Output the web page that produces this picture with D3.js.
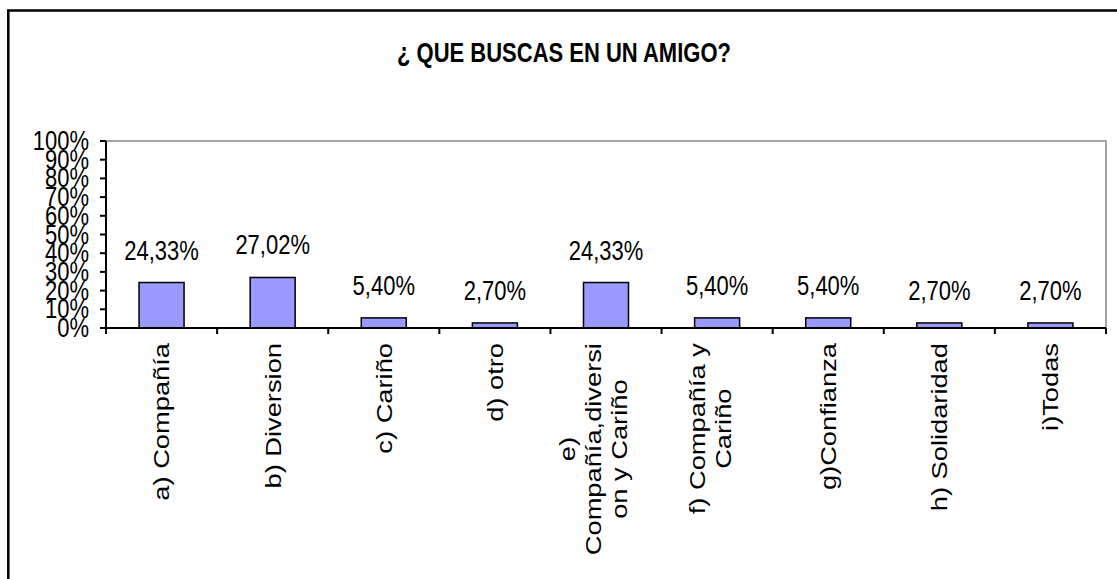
<!DOCTYPE html>
<html>
<head>
<meta charset="utf-8">
<script src="https://cdn.jsdelivr.net/npm/d3@7"></script>
<style>
	body { margin: 0; background: #fff; }
	svg { display: block; }
	text { font-family: "Liberation Sans", Arial, sans-serif; fill: #000; }
</style>
</head>
<body>
<div id="viz"></div>
<script>
const TITLE = '¿ QUE BUSCAS EN UN AMIGO?'
const categories = ['a', 'b', 'c', 'd', 'e', 'f', 'g', 'h', 'i']
const category_lines = [
	['a) Compañía'],
	['b) Diversion'],
	['c) Cariño'],
	['d) otro'],
	['e)', 'Compañía,diversi', 'on y Cariño'],
	['f) Compañía y', 'Cariño'],
	['g)Confianza'],
	['h) Solidaridad'],
	['i)Todas']
]
const values = [24.33, 27.02, 5.4, 2.7, 24.33, 5.4, 5.4, 2.7, 2.7]
const y_ticks = [0, 10, 20, 30, 40, 50, 60, 70, 80, 90, 100]
const y_tick_labels = ['0%', '10%', '20%', '30%', '40%', '50%', '60%', '70%', '80%', '90%', '100%']

// the original is stretched vertically, so every text gets the same stretch
const STRETCH = 1.24
const FONT = 22
const WIDTH = 1117
const HEIGHT = 579
const PLOT = { left: 106, right: 1106, top: 141, bottom: 328 }

const svg = d3.select('#viz').append('svg')
	.attr('width', WIDTH)
	.attr('height', HEIGHT)

// outer chart border (right and bottom fall outside the picture)
svg.append('rect')
	.attr('x', 8.3)
	.attr('y', 10.5)
	.attr('width', WIDTH + 40)
	.attr('height', HEIGHT + 40)
	.attr('fill', 'none')
	.attr('stroke', '#000')
	.attr('stroke-width', 2.5)

svg.append('text')
	.attr('transform', `translate(564, 62) scale(1, ${STRETCH})`)
	.attr('text-anchor', 'middle')
	.style('font-size', FONT + 'px')
	.style('font-weight', 'bold')
	.text(TITLE)

const x = d3.scaleBand()
	.domain(categories)
	.range([PLOT.left, PLOT.right])
	.paddingInner(0)
	.paddingOuter(0)

const y = d3.scaleLinear()
	.domain([0, 100])
	.range([PLOT.bottom, PLOT.top])

// gray plot frame at top and right
svg.append('path')
	.attr('d', `M${PLOT.left},${PLOT.top}H${PLOT.right}V${PLOT.bottom}`)
	.attr('fill', 'none')
	.attr('stroke', '#888')
	.attr('stroke-width', 1.5)

const BAR_W = x.bandwidth() * 0.405
svg.append('g')
	.selectAll('rect')
	.data(values)
	.enter()
	.append('rect')
	.attr('x', (d, i) => x(categories[i]) + x.bandwidth() / 2 - BAR_W / 2)
	.attr('y', (d) => y(d))
	.attr('width', BAR_W)
	.attr('height', (d) => y(0) - y(d))
	.attr('fill', '#9999ff')
	.attr('stroke', '#000')
	.attr('stroke-width', 1.5)

// value labels
svg.append('g')
	.selectAll('text')
	.data(values)
	.enter()
	.append('text')
	.attr('transform', (d, i) =>
		`translate(${x(categories[i]) + x.bandwidth() / 2}, ${y(d) - 23}) scale(1, ${STRETCH})`)
	.attr('text-anchor', 'middle')
	.style('font-size', FONT + 'px')
	.text((d) => d.toFixed(2).replace('.', ',') + '%')

// y axis
const y_axis = svg.append('g')
y_axis.append('line')
	.attr('x1', PLOT.left).attr('x2', PLOT.left)
	.attr('y1', PLOT.top).attr('y2', PLOT.bottom + 6)
	.attr('stroke', '#000').attr('stroke-width', 2)
y_axis.selectAll('.tick')
	.data(y_ticks)
	.enter()
	.append('line')
	.attr('x1', PLOT.left - 6).attr('x2', PLOT.left)
	.attr('y1', (d) => y(d)).attr('y2', (d) => y(d))
	.attr('stroke', '#000').attr('stroke-width', 2)
y_axis.selectAll('text')
	.data(y_ticks)
	.enter()
	.append('text')
	.attr('transform', (d) => `translate(89, ${y(d) + 9}) scale(1, ${STRETCH})`)
	.attr('text-anchor', 'end')
	.style('font-size', FONT + 'px')
	.text((d, i) => y_tick_labels[i])

// x axis
const x_axis = svg.append('g')
x_axis.append('line')
	.attr('x1', PLOT.left - 6).attr('x2', PLOT.right)
	.attr('y1', PLOT.bottom).attr('y2', PLOT.bottom)
	.attr('stroke', '#000').attr('stroke-width', 2)
const x_ticks = categories.map((c) => x(c)).concat([PLOT.right])
x_axis.selectAll('.tick')
	.data(x_ticks)
	.enter()
	.append('line')
	.attr('x1', (d) => d).attr('x2', (d) => d)
	.attr('y1', PLOT.bottom).attr('y2', PLOT.bottom + 6)
	.attr('stroke', '#000').attr('stroke-width', 2)

// rotated category labels, wrapped lines centred on each other, block anchored at the top
const LABEL_TOP = 343
const LINE_H = 26
const FIRST_SHIFT = 19.5
const CAP = FONT * 0.716
category_lines.forEach((lines, i) => {
	const cx = x(categories[i]) + x.bandwidth() / 2
	const g = x_axis.append('g')
	const texts = lines.map((line) =>
		g.append('text')
			.attr('text-anchor', 'middle')
			.style('font-size', FONT + 'px')
			.text(line)
	)
	const max_len = d3.max(texts, (t) => t.node().getComputedTextLength()) * STRETCH
	const cy = LABEL_TOP + max_len / 2
	texts.forEach((t, j) => {
		const bx = cx + CAP / 2 - (lines.length - 1) * FIRST_SHIFT + j * LINE_H
		t.attr('transform', `translate(${bx}, ${cy}) scale(1, ${STRETCH}) rotate(-90)`)
	})
})
</script>
</body>
</html>
